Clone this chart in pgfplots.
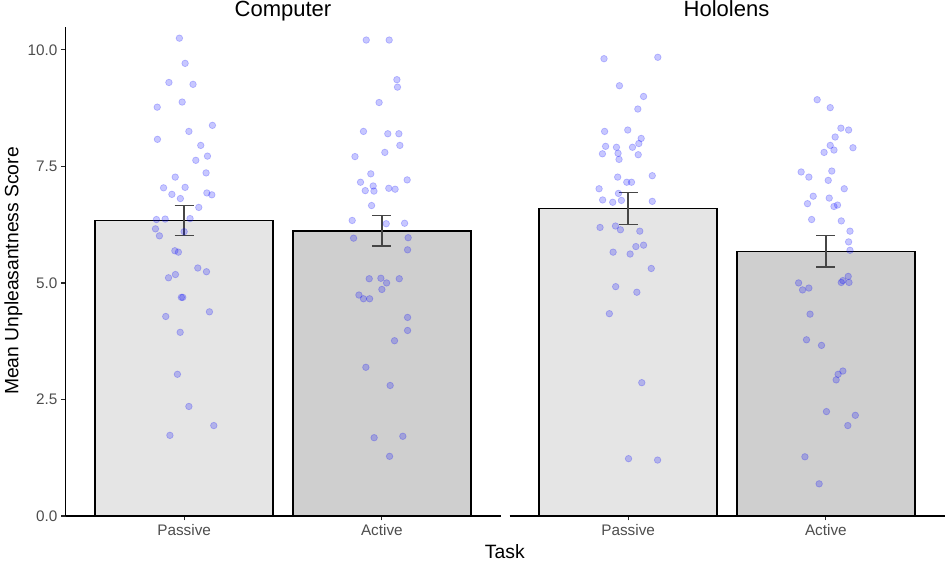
\documentclass[border=0pt]{standalone}
\usepackage{pgfplots}
\pgfplotsset{compat=1.18}
\usepackage{fontspec}
\setmainfont{Liberation Sans}
\definecolor{barA}{RGB}{229,229,229}
\definecolor{barB}{RGB}{207,207,207}
\definecolor{tickgray}{RGB}{77,77,77}
\definecolor{errgray}{RGB}{70,70,70}
\definecolor{ptblue}{RGB}{0,0,255}

\pgfplotstableread{
x y
0.976 10.25
1.005 9.71
0.923 9.30
1.045 9.26
0.990 8.88
0.864 8.77
1.143 8.38
1.024 8.25
0.865 8.08
1.084 7.95
1.118 7.72
1.059 7.63
1.111 7.36
0.955 7.27
0.896 7.04
1.005 7.05
0.938 6.90
1.115 6.93
1.140 6.89
0.981 6.81
1.074 6.62
0.860 6.36
0.904 6.37
1.030 6.38
0.855 6.16
0.875 6.01
1.000 6.10
0.953 5.69
0.971 5.66
1.069 5.32
1.113 5.24
0.956 5.18
0.921 5.11
0.986 4.69
0.993 4.69
1.128 4.38
0.907 4.28
0.980 3.94
0.966 3.04
1.024 2.35
1.150 1.94
0.928 1.73
}\compPassive

\pgfplotstableread{
x y
1.921 10.21
2.037 10.21
2.076 9.36
2.079 9.20
1.986 8.87
1.907 8.25
2.030 8.20
2.086 8.20
2.091 7.95
2.015 7.80
1.864 7.71
1.944 7.34
1.892 7.16
2.128 7.21
1.956 7.08
1.916 6.98
1.960 6.97
2.035 7.03
2.067 7.01
1.948 6.66
1.850 6.34
2.022 6.27
2.115 6.28
1.857 5.96
2.133 5.97
2.130 5.71
1.936 5.09
1.995 5.10
2.088 5.09
2.024 5.00
2.000 4.86
1.884 4.74
1.907 4.66
1.938 4.66
2.130 4.26
2.130 3.98
2.064 3.76
1.919 3.19
2.042 2.80
1.961 1.68
2.106 1.71
2.039 1.28
}\compActive

\pgfplotstableread{
x y
0.878 9.81
1.150 9.84
0.956 9.23
1.078 9.00
1.049 8.73
0.881 8.25
0.998 8.28
1.066 8.10
1.054 7.99
0.886 7.93
0.941 7.91
1.022 7.91
0.870 7.77
0.949 7.78
1.051 7.75
0.954 7.65
0.947 7.27
1.122 7.30
0.993 7.16
1.017 7.16
0.853 7.02
0.951 6.92
0.871 6.78
0.922 6.73
0.966 6.77
1.122 6.75
0.858 6.19
0.936 6.22
0.961 6.14
1.059 6.11
1.039 5.78
1.078 5.81
0.924 5.66
1.010 5.62
1.117 5.31
0.937 4.92
1.044 4.80
0.905 4.34
1.069 2.86
1.002 1.23
1.149 1.20
}\holoPassive

\pgfplotstableread{
x y
1.956 8.93
2.022 8.76
2.076 8.32
2.115 8.28
2.047 8.13
2.022 7.95
2.137 7.90
1.991 7.80
2.041 7.85
1.875 7.38
1.914 7.27
2.030 7.40
2.012 7.20
2.093 7.02
1.936 6.86
2.017 6.82
1.907 6.70
2.059 6.67
2.041 6.64
1.928 6.36
2.078 6.33
2.122 6.11
2.115 5.88
2.122 5.70
1.862 5.00
1.882 4.85
1.914 4.89
2.113 5.14
2.086 5.05
2.078 5.01
2.117 5.01
1.920 4.33
1.902 3.78
1.978 3.66
2.086 3.11
2.062 3.04
2.052 2.92
2.003 2.24
2.149 2.16
2.111 1.94
1.894 1.27
1.966 0.69
}\holoActive

\pgfplotsset{
  facet/.style={
    scale only axis, width=435pt, height=489pt,
    xmin=0.4, xmax=2.6, ymin=0, ymax=10.49,
    xtick={1,2}, xticklabels={Passive,Active},
    tick align=outside, major tick length=4.5pt,
    axis line style={line width=1.4pt, black},
    tick style={line width=1.2pt, black!85},
    every tick label/.append style={font=\fontsize{15.3}{18}\selectfont, text=tickgray},
    axis x line*=bottom,
    clip=false,
    unbounded coords=jump,
  },
  barplot/.style={ybar, bar width=0.9, bar shift=0pt, draw=black, line width=1.6pt},
  pts/.style={only marks, mark=*, mark size=3.3pt,
    mark options={fill=ptblue, fill opacity=0.22, draw=ptblue, draw opacity=0.22, line width=0.7pt}},
  errline/.style={errgray, line width=1.3pt, mark=none, forget plot},
}

\begin{document}
\begin{tikzpicture}
\useasboundingbox (0,0) rectangle (945pt,562pt);

\begin{axis}[facet, at={(65.5pt,46pt)}, anchor=south west,
  axis y line*=left,
  ytick={0,2.5,5,7.5,10}, yticklabels={0.0,2.5,5.0,7.5,10.0}]
  \addplot[barplot, fill=barA] coordinates {(1,6.34)};
  \addplot[barplot, fill=barB] coordinates {(2,6.12)};
  \addplot[errline] coordinates {(1,6.02) (1,6.66) (nan,nan) (0.952,6.66) (1.048,6.66) (nan,nan) (0.952,6.02) (1.048,6.02)};
  \addplot[errline] coordinates {(2,5.79) (2,6.45) (nan,nan) (1.952,6.45) (2.048,6.45) (nan,nan) (1.952,5.79) (2.048,5.79)};
  \addplot[pts] table[x=x,y=y] {\compPassive};
  \addplot[pts] table[x=x,y=y] {\compActive};
\end{axis}

\begin{axis}[facet, at={(509.5pt,46pt)}, anchor=south west,
  axis y line*=left, y axis line style={draw=none}, ytick=\empty]
  \addplot[barplot, fill=barA] coordinates {(1,6.60)};
  \addplot[barplot, fill=barB] coordinates {(2,5.675)};
  \addplot[errline] coordinates {(1,6.26) (1,6.94) (nan,nan) (0.952,6.94) (1.048,6.94) (nan,nan) (0.952,6.26) (1.048,6.26)};
  \addplot[errline] coordinates {(2,5.34) (2,6.01) (nan,nan) (1.952,6.01) (2.048,6.01) (nan,nan) (1.952,5.34) (2.048,5.34)};
  \addplot[pts] table[x=x,y=y] {\holoPassive};
  \addplot[pts] table[x=x,y=y] {\holoActive};
\end{axis}

\node[anchor=base, font=\fontsize{22}{26}\selectfont] at (283pt,545pt) {Computer};
\node[anchor=base, font=\fontsize{22}{26}\selectfont] at (726.5pt,545pt) {Hololens};
\node[anchor=base, font=\fontsize{19.3}{23}\selectfont] at (504.8pt,3pt) {Task};
\node[anchor=base, rotate=90, font=\fontsize{19.3}{23}\selectfont] at (18.3pt,291pt) {Mean Unpleasantness Score};
\end{tikzpicture}
\end{document}
